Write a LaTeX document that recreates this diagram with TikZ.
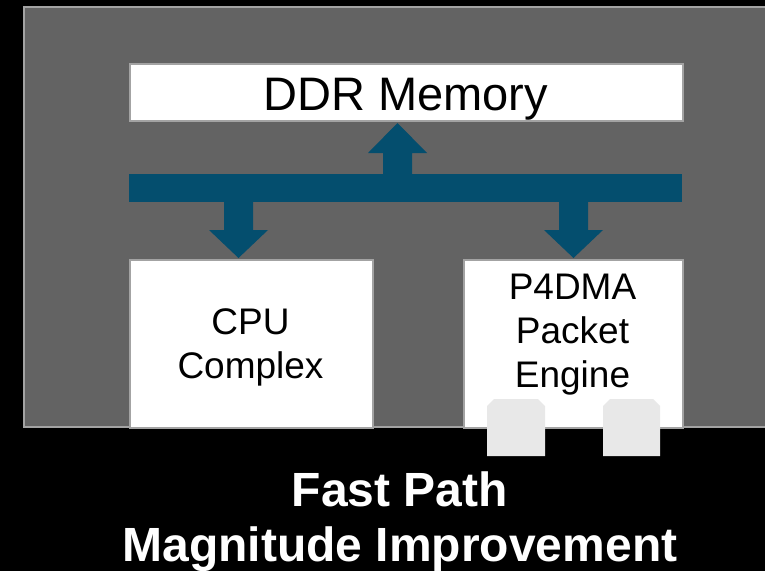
\documentclass[tikz,border=0pt]{standalone}
\usepackage{fontspec}
\setmainfont{Liberation Sans}
\definecolor{panelgray}{HTML}{636363}
\definecolor{edgegray}{HTML}{A3A3A3}
\definecolor{busblue}{HTML}{044E6E}
\definecolor{portgray}{HTML}{E8E8E8}
\begin{document}
\begin{tikzpicture}[x=1pt,y=-1pt,
  blockbox/.style={draw=edgegray,line width=1.5pt,fill=white,inner sep=0pt,anchor=north west},
  lbl/.style={inner sep=0pt,anchor=base,text=black},
  busfill/.style={fill=busblue,draw=none},
  portfill/.style={fill=portgray,draw=none}]
\useasboundingbox (0,0) rectangle (765,571);
\fill[black] (0,0) rectangle (765,571);
% panel
\draw[edgegray,line width=1.5pt,fill=panelgray] (24,7) rectangle (770,427);
% boxes
\node[blockbox,minimum width=553pt,minimum height=57pt] (ddr) at (129,63) {};
\node[blockbox,minimum width=243pt,minimum height=168pt] (cpu) at (129,259) {};
\node[blockbox,minimum width=219pt,minimum height=168pt] (p4) at (463,259) {};
% labels
\node[lbl,font=\fontsize{47}{47}\selectfont] (ddrt) at (405.5,110) {DDR Memory};
\node[lbl,font=\fontsize{37}{42}\selectfont] (cput1) at (250.5,334) {CPU};
\node[lbl,font=\fontsize{37}{42}\selectfont] (cput2) at (250.5,378) {Complex};
\node[lbl,font=\fontsize{37}{42}\selectfont] (p4t1) at (572.5,299) {P4DMA};
\node[lbl,font=\fontsize{37}{42}\selectfont] (p4t2) at (572.5,343) {Packet};
\node[lbl,font=\fontsize{37}{42}\selectfont] (p4t3) at (572.5,387) {Engine};
% bus
\fill[busfill] (129,174) rectangle (682,202);
% up arrow to DDR
\fill[busfill] (383,175) -- (383,153) -- (368,153) -- (397.5,123) -- (427,153) -- (412,153) -- (412,175) -- cycle;
% down arrow to CPU
\fill[busfill] (224,201) -- (224,230) -- (209,230) -- (238.5,258) -- (268,230) -- (253,230) -- (253,201) -- cycle;
% down arrow to P4DMA
\fill[busfill] (559,201) -- (559,230) -- (544,230) -- (573.5,258) -- (603,230) -- (588,230) -- (588,201) -- cycle;
% ports
\fill[portfill] (487,456) -- (487,406) -- (494,399) -- (538,399) -- (545,406) -- (545,456) -- cycle;
\fill[portfill] (603,456) -- (603,406) -- (610,399) -- (653,399) -- (660,406) -- (660,456) -- cycle;
% caption
\node[lbl,text=white,font=\fontsize{48}{55}\bfseries\selectfont] (cap1) at (400,506) {Fast Path};
\node[lbl,text=white,font=\fontsize{48}{55}\bfseries\selectfont] (cap2) at (400,561) {Magnitude Improvement};
\end{tikzpicture}
\end{document}
